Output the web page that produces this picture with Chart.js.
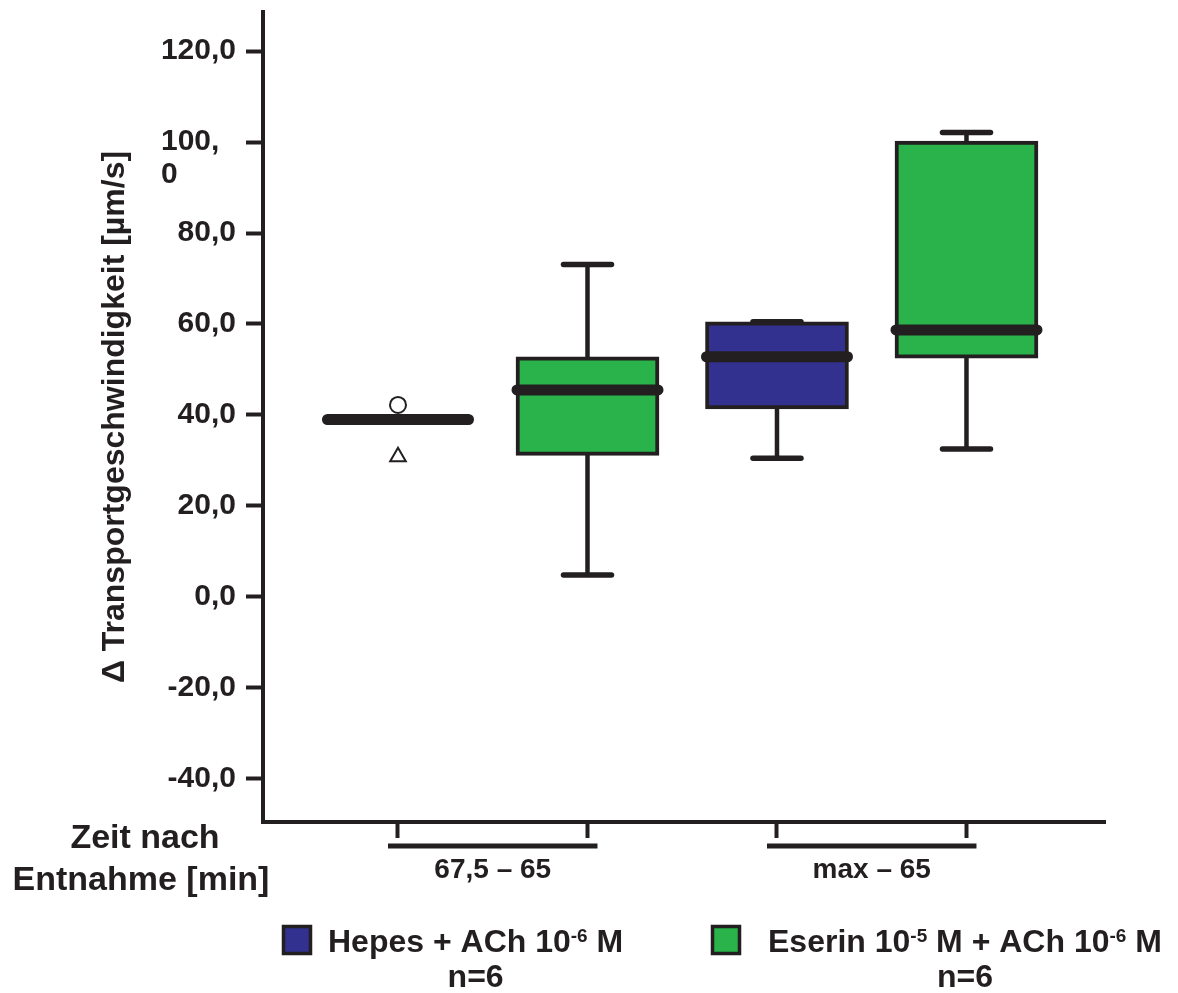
<!DOCTYPE html>
<html>
<head>
<meta charset="utf-8">
<script src="https://cdn.jsdelivr.net/npm/chart.js@4.4.1/dist/chart.umd.min.js"></script>
<style>
  html, body { margin: 0; padding: 0; background: #fff; }
</style>
</head>
<body>
<canvas id="chart" width="1178" height="993"></canvas>
<script>
// --- data ---
var groups = ['67,5 – 65', 'max – 65'];
var seriesNames = ['Hepes + ACh 10⁻⁶ M', 'Eserin 10⁻⁵ M + ACh 10⁻⁶ M'];
var sampleSizes = ['n=6', 'n=6'];

// slot of each box along the x axis (1..4)
var hepesSlots = [1, 3];
var eserinSlots = [2, 4];

var hepesMin = [39.0, 30.5];
var hepesQ1 = [39.0, 41.3];
var hepesMedian = [39.0, 52.8];
var hepesQ3 = [39.0, 60.5];
var hepesMax = [39.0, 60.5];

var eserinMin = [4.8, 32.5];
var eserinQ1 = [31.1, 52.5];
var eserinMedian = [45.5, 58.7];
var eserinQ3 = [52.8, 100.2];
var eserinMax = [73.1, 102.1];

// outliers of Hepes, first group
var outlierCircle = [42.2];
var outlierTriangle = [30.8];

var yTicks = [-40, -20, 0, 20, 40, 60, 80, 100, 120];

// --- styling ---
var ink = '#231f20';
var blue = '#32318f';
var green = '#29b34a';
var fam = "'Liberation Sans', Arial, Helvetica, sans-serif";

var allSlots = hepesSlots.concat(eserinSlots).sort();
var groupSlots = [[hepesSlots[0], eserinSlots[0]], [hepesSlots[1], eserinSlots[1]]];
var groupCenters = groupSlots.map(function (g) { return (g[0] + g[1]) / 2; });

var xMin = 0.2876, xMax = 4.731;

function fmt(v) {
  var s = v.toFixed(1).replace('.', ',');
  if (v === 100) return ['', '100,  ', '0       ']; // wrapped like the original
  return s;
}

// draws text where unicode superscripts become small raised glyphs
function supText(ctx, text, x, y, size, align) {
  var map = {'⁻': '-', '⁰': '0', '¹': '1', '²': '2', '³': '3', '⁴': '4', '⁵': '5', '⁶': '6', '⁷': '7', '⁸': '8', '⁹': '9'};
  var runs = [];
  for (var ch of text) {
    var sup = map[ch] !== undefined;
    var c = sup ? map[ch] : ch;
    var last = runs[runs.length - 1];
    if (last && last.sup === sup) last.t += c; else runs.push({ t: c, sup: sup });
  }
  var big = 'bold ' + size + 'px ' + fam;
  var small = 'bold ' + Math.round(size * 0.6) + 'px ' + fam;
  var total = 0;
  runs.forEach(function (r) {
    ctx.font = r.sup ? small : big;
    r.w = ctx.measureText(r.t).width;
    total += r.w;
  });
  var cx = align === 'center' ? x - total / 2 : x;
  ctx.textAlign = 'left';
  ctx.textBaseline = 'alphabetic';
  runs.forEach(function (r) {
    ctx.font = r.sup ? small : big;
    ctx.fillText(r.t, cx, r.sup ? y - size * 0.3 : y);
    cx += r.w;
  });
  return total;
}

var stats = [
  { slots: hepesSlots, min: hepesMin, med: hepesMedian, max: hepesMax },
  { slots: eserinSlots, min: eserinMin, med: eserinMedian, max: eserinMax }
];

var boxPlugin = {
  id: 'boxParts',
  beforeDatasetsDraw: function (chart) {
    var ctx = chart.ctx, xs = chart.scales.x, ys = chart.scales.y;
    ctx.save();
    ctx.strokeStyle = ink;
    ctx.lineCap = 'round';
    stats.forEach(function (s) {
      s.slots.forEach(function (slot, j) {
        var x = xs.getPixelForValue(slot);
        var y0 = ys.getPixelForValue(s.min[j]);
        var y1 = ys.getPixelForValue(s.max[j]);
        ctx.lineWidth = 4.5;
        ctx.beginPath(); ctx.moveTo(x, y0); ctx.lineTo(x, y1); ctx.stroke();
        ctx.lineWidth = 5.5;
        [y0, y1].forEach(function (yy) {
          ctx.beginPath(); ctx.moveTo(x - 24, yy); ctx.lineTo(x + 24, yy); ctx.stroke();
        });
      });
    });
    ctx.restore();
  },
  afterDatasetsDraw: function (chart) {
    var ctx = chart.ctx, ys = chart.scales.y;
    ctx.save();
    ctx.strokeStyle = ink;
    ctx.lineCap = 'round';
    ctx.lineWidth = 11;
    stats.forEach(function (s, i) {
      var meta = chart.getDatasetMeta(i);
      s.slots.forEach(function (slot, j) {
        var el = meta.data[j];
        var y = ys.getPixelForValue(s.med[j]);
        ctx.beginPath();
        ctx.moveTo(el.x - el.width / 2 + 1, y);
        ctx.lineTo(el.x + el.width / 2 - 1, y);
        ctx.stroke();
      });
    });
    ctx.restore();
  },
  afterDraw: function (chart) {
    var ctx = chart.ctx, xs = chart.scales.x;
    ctx.save();
    // group brackets under the axis
    ctx.strokeStyle = ink;
    ctx.lineWidth = 5;
    var yb = xs.bottom + 8;
    groupSlots.forEach(function (g) {
      ctx.beginPath();
      ctx.moveTo(xs.getPixelForValue(g[0]) - 10, yb);
      ctx.lineTo(xs.getPixelForValue(g[1]) + 10, yb);
      ctx.stroke();
    });
    // x axis caption
    ctx.fillStyle = ink;
    ctx.font = 'bold 34px ' + fam;
    ctx.textAlign = 'center';
    ctx.textBaseline = 'middle';
    ctx.fillText('Zeit nach', 145, 839);
    ctx.fillText('Entnahme [min]', 141, 881);
    // legend
    var boxes = [{ x: 282, c: blue }, { x: 711, c: green }];
    boxes.forEach(function (b, i) {
      ctx.fillStyle = b.c;
      ctx.fillRect(b.x, 925, 30, 30);
      ctx.strokeStyle = ink;
      ctx.lineWidth = 3.5;
      ctx.strokeRect(b.x + 1.5, 926.5, 27, 27);
      ctx.fillStyle = ink;
      var tx = b.x + 46 + (i === 1 ? 11 : 0);
      var w = supText(ctx, seriesNames[i], tx, 952, 32, 'left');
      supText(ctx, sampleSizes[i], tx + w / 2, 987, 32, 'center');
    });
    ctx.restore();
  }
};

var ctx = document.getElementById('chart').getContext('2d');
var myChart = new Chart(ctx, {
  type: 'bar',
  data: {
    datasets: [
      {
        label: seriesNames[0],
        data: hepesSlots.map(function (p, i) { return { x: p, y: [hepesQ1[i], hepesQ3[i]] }; }),
        backgroundColor: blue,
        borderColor: ink,
        borderWidth: 4,
        borderSkipped: false,
        barThickness: 143,
        grouped: false
      },
      {
        label: seriesNames[1],
        data: eserinSlots.map(function (p, i) { return { x: p, y: [eserinQ1[i], eserinQ3[i]] }; }),
        backgroundColor: green,
        borderColor: ink,
        borderWidth: 4,
        borderSkipped: false,
        barThickness: 143,
        grouped: false
      },
      {
        type: 'scatter',
        label: 'outlier',
        data: [{ x: hepesSlots[0], y: outlierCircle[0] }],
        pointStyle: 'circle',
        radius: 8,
        borderWidth: 2,
        borderColor: ink,
        backgroundColor: '#ffffff'
      },
      {
        type: 'scatter',
        label: 'extreme',
        data: [{ x: hepesSlots[0], y: outlierTriangle[0] }],
        pointStyle: 'triangle',
        radius: 9,
        borderWidth: 2,
        borderColor: ink,
        backgroundColor: '#ffffff'
      }
    ]
  },
  options: {
    responsive: false,
    animation: false,
    layout: { padding: { top: 12, right: 73, bottom: 89, left: 0 } },
    plugins: {
      legend: { display: false },
      tooltip: { enabled: false }
    },
    scales: {
      x: {
        type: 'linear',
        position: 'bottom',
        weight: 0,
        min: xMin,
        max: xMax,
        offset: false,
        afterBuildTicks: function (s) { s.ticks = allSlots.map(function (v) { return { value: v }; }); },
        afterFit: function (s) { s.height = 16; s.paddingLeft = 0; s.paddingRight = 0; },
        ticks: { display: false },
        grid: { drawOnChartArea: false, drawTicks: true, tickLength: 16, tickWidth: 4, tickColor: ink, offset: false },
        border: { display: true, width: 4, color: ink }
      },
      x2: {
        type: 'linear',
        position: 'bottom',
        weight: 1,
        min: xMin,
        max: xMax,
        offset: false,
        afterBuildTicks: function (s) { s.ticks = groupCenters.map(function (v) { return { value: v }; }); },
        afterFit: function (s) { s.height = 66; s.paddingLeft = 0; s.paddingRight = 0; },
        ticks: {
          callback: function (v, i) { return groups[i]; },
          font: { family: fam, size: 28, weight: 'bold' },
          color: ink,
          padding: 15,
          maxRotation: 0,
          autoSkip: false
        },
        grid: { display: false, drawTicks: false },
        border: { display: false }
      },
      y: {
        min: -49.5,
        max: 128.6,
        afterBuildTicks: function (s) { s.ticks = yTicks.map(function (v) { return { value: v }; }); },
        afterFit: function (s) { s.width = 263; s.paddingTop = 0; s.paddingBottom = 0; },
        ticks: {
          callback: function (v) { return fmt(v); },
          font: { family: fam, size: 30, weight: 'bold', lineHeight: 1.1 },
          color: ink,
          padding: 10,
          autoSkip: false
        },
        grid: { drawOnChartArea: false, tickLength: 17, tickWidth: 4, tickColor: ink },
        border: { width: 4, color: ink },
        title: {
          display: true,
          text: 'Δ Transportgeschwindigkeit [µm/s]',
          font: { family: fam, size: 32, weight: 'bold' },
          color: ink,
          padding: { top: 96, bottom: 0 }
        }
      }
    }
  },
  plugins: [boxPlugin]
});
</script>
</body>
</html>
